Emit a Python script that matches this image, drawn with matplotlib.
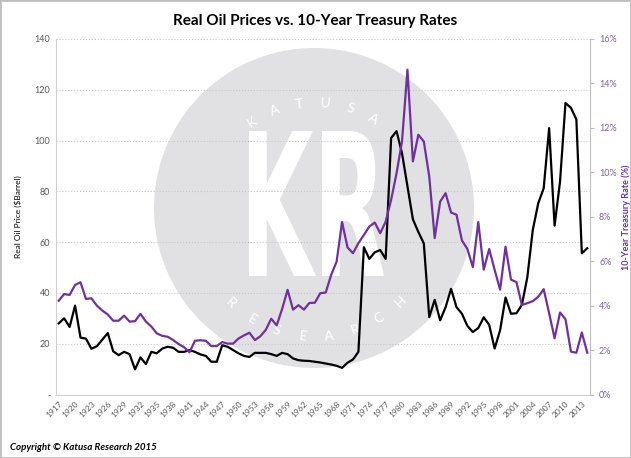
import numpy as np
import matplotlib
matplotlib.use("Agg")
import matplotlib.pyplot as plt
from matplotlib.patches import Circle, PathPatch, Rectangle
from matplotlib.textpath import TextPath
from matplotlib.font_manager import FontProperties
from matplotlib.transforms import Affine2D

plt.rcParams['font.family'] = ['Lato', 'DejaVu Sans']

years = list(range(1917, 2015))
oil_price = [28, 30, 26.6, 35, 22.4, 22, 18, 19, 21.6, 24.2,
             17, 15.5, 16.8, 15.9, 9.9, 14.6, 12, 16.8, 16.2, 18.1,
             18.8, 18.4, 16.8, 16.8, 17.5, 16.8, 15.8, 15.2, 12.9, 12.9,
             19.4, 18.8, 17.5, 16.2, 15.2, 14.8, 16.4, 16.4, 16.4, 15.9,
             15.2, 16.4, 15.9, 14.2, 13.5, 13.3, 13.2, 12.9, 12.6, 12.2,
             11.8, 11.3, 10.5, 12.5, 13.8, 16.8, 58, 53.4, 56, 56.9,
             53.4, 101, 103.7, 95, 82, 69, 64, 59.5, 30.5, 37.3,
             29.2, 34.4, 41.6, 34.4, 31.8, 27, 24.6, 26.2, 30.4, 27.4,
             18.1, 25.3, 38.2, 31.8, 32, 35.3, 46.2, 64.8, 75.3, 81.2,
             104.9, 66.5, 83.8, 114.8, 112.9, 108.3, 55.6, 57.6]
treasury_rate = [4.22, 4.52, 4.48, 4.93, 5.05, 4.30, 4.33, 4.0, 3.78, 3.6,
                 3.32, 3.32, 3.55, 3.28, 3.30, 3.63, 3.28, 3.06, 2.75, 2.64,
                 2.60, 2.45, 2.27, 2.13, 1.90, 2.42, 2.44, 2.42, 2.18, 2.18,
                 2.36, 2.29, 2.29, 2.52, 2.66, 2.78, 2.45, 2.62, 2.91, 3.41,
                 3.11, 3.85, 4.71, 3.82, 4.02, 3.82, 4.12, 4.13, 4.56, 4.59,
                 5.38, 5.98, 7.76, 6.62, 6.36, 6.81, 7.18, 7.56, 7.74, 7.26,
                 7.78, 8.76, 9.96, 11.39, 14.62, 10.49, 11.69, 11.39, 9.81, 7.04,
                 8.68, 9.06, 8.19, 8.09, 6.93, 6.55, 5.73, 7.76, 5.62, 6.55,
                 5.61, 4.72, 6.65, 5.17, 5.06, 4.03, 4.11, 4.2, 4.4, 4.74,
                 3.66, 2.53, 3.69, 3.39, 1.93, 1.88, 2.79, 1.88]
oil_ticks = [0, 20, 40, 60, 80, 100, 120, 140]
rate_ticks = [0, 2, 4, 6, 8, 10, 12, 14, 16]

W, H = 631, 458
fig = plt.figure(figsize=(W / 100, H / 100), dpi=100)
purple = '#7030a0'
grey = '#595959'

# watermark layer in pixel coords
bg = fig.add_axes([0, 0, 1, 1], zorder=0)
bg.set_xlim(0, W)
bg.set_ylim(H, 0)
bg.axis('off')
cx, cy, r = 314, 208, 160
bg.add_patch(Circle((cx, cy), r, color='#e1e1e3', lw=0))

tp = TextPath((0, 0), "KR", size=1, prop=FontProperties(family='DejaVu Sans', weight='bold'))
bb = tp.get_extents()
kx0, kx1, ky0, ky1 = 249, 384, 131, 276
tr = Affine2D().translate(-bb.x0, -bb.y0).scale((kx1 - kx0) / bb.width, -(ky1 - ky0) / bb.height).translate(kx0, ky1)
bg.add_patch(PathPatch(tr.transform_path(tp), color='white', lw=0))

def arc_text(word, angles, radius, top):
    for ch, a in zip(word, angles):
        t = np.radians(a)
        x = cx + 1 + radius * np.cos(t)
        y = cy + 8 - radius * np.sin(t)
        rot = a - 90 if top else a - 270
        bg.text(x, y, ch, color='white', fontsize=10, rotation=rot,
                ha='center', va='center', rotation_mode='anchor')

arc_text("KATUSA", np.linspace(124, 59, 6), 113, True)
arc_text("RESEARCH", np.linspace(226, 315, 8), 121, False)

# main axes
ax = fig.add_axes([56 / W, 1 - 394.5 / H, (590 - 56) / W, (394.5 - 39) / H], zorder=1)
ax.patch.set_visible(False)
x = np.arange(len(years))
ax.plot(x, oil_price, color='black', lw=1.6, zorder=3)
ax.set_xlim(-0.5, len(years) - 0.5)
ax.set_ylim(0, 140)
ax.set_yticks(oil_ticks)
ax.set_yticklabels(['-' if v == 0 else str(v) for v in oil_ticks], color=grey, fontsize=6.5)
ax.yaxis.grid(True, linestyle=':', color='#c8c8c8', lw=0.8)
ax.set_axisbelow(True)
ax.set_xticks(x[::3])
ax.set_xticklabels([str(y) for y in years[::3]], rotation=45, ha='right',
                   rotation_mode='anchor', color=grey, fontsize=6)
ax.tick_params(axis='both', length=0, pad=4)
for s in ['top', 'right']:
    ax.spines[s].set_visible(False)
for s in ['left', 'bottom']:
    ax.spines[s].set_color('#d0d0d0')
ax.set_ylabel('Real Oil Price ($Barrel)', fontsize=6, color='black')
ax.yaxis.set_label_coords((22 - 56) / 534, 0.5)

ax2 = ax.twinx()
ax2.plot(x, treasury_rate, color=purple, lw=1.6, zorder=2)
ax2.set_ylim(0, 16)
ax2.set_yticks(rate_ticks)
ax2.set_yticklabels([f'{v}%' for v in rate_ticks], color='#8064a2', fontsize=6.5)
ax2.tick_params(axis='y', length=3, color='#bfbfbf')
for s in ['top', 'left', 'bottom']:
    ax2.spines[s].set_visible(False)
ax2.spines['right'].set_color('#bfbfbf')
ax2.set_ylabel('10-Year Treasury Rate (%)', fontsize=6.5, color=purple,
               fontweight='bold', rotation=90)
ax2.yaxis.set_label_coords((621 - 56) / 534, 0.5)

fig.text(0.5, 1 - 21 / H, 'Real Oil Prices vs. 10-Year Treasury Rates',
         ha='center', va='center', fontsize=11, fontweight='bold')
fig.text(10 / W, 1 - 450 / H, 'Copyright © Katusa Research 2015', ha='left',
         va='baseline', fontsize=7, fontweight='bold', fontstyle='italic')
fig.add_artist(Rectangle((0, 0), 1, 1, transform=fig.transFigure, fill=False,
                         edgecolor='#bfbfbf', lw=2))

fig.savefig('out.png', dpi=100)
